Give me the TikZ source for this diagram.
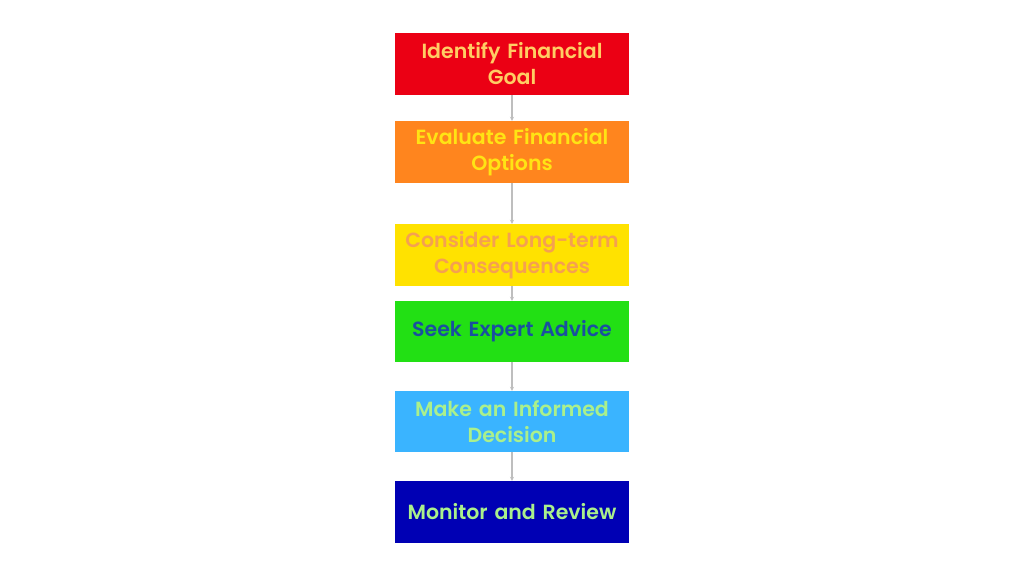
\documentclass[tikz,border=0pt]{standalone}
\usepackage{fontspec}
\setmainfont{Poppins}[BoldFont={Poppins SemiBold}]
\usetikzlibrary{arrows.meta}
\definecolor{cRed}{RGB}{235,0,20}
\definecolor{tRed}{RGB}{255,205,100}
\definecolor{cOrange}{RGB}{255,133,30}
\definecolor{tOrange}{RGB}{255,228,20}
\definecolor{cYellow}{RGB}{255,226,0}
\definecolor{tYellow}{RGB}{245,160,80}
\definecolor{cGreen}{RGB}{34,224,20}
\definecolor{tGreen}{RGB}{25,80,160}
\definecolor{cLBlue}{RGB}{58,180,255}
\definecolor{tLBlue}{RGB}{170,240,140}
\definecolor{cDBlue}{RGB}{0,0,180}
\definecolor{tDBlue}{RGB}{170,240,140}
\definecolor{arrowgray}{RGB}{190,190,190}
\tikzset{
  stepbox/.style={rectangle, minimum width=234pt, minimum height=62pt, inner sep=0pt,
    align=center, font=\fontsize{20.5}{26}\selectfont\bfseries, text width=232pt},
  conn/.style={draw=arrowgray, line width=1.2pt, -{Stealth[length=4pt,width=4pt]}}
}
\begin{document}
\begin{tikzpicture}[x=1pt,y=-1pt]
\useasboundingbox[fill=white] (0,0) rectangle (1024,576);
\node[stepbox, fill=cRed, text=tRed] (s1) at (512,64) {Identify Financial\\Goal};
\node[stepbox, fill=cOrange, text=tOrange] (s2) at (512,152) {Evaluate Financial\\Options};
\node[stepbox, fill=cYellow, text=tYellow] (s3) at (512,255) {Consider Long-term\\Consequences};
\node[stepbox, fill=cGreen, text=tGreen, minimum height=61pt] (s4) at (512,331.5) {Seek Expert Advice};
\node[stepbox, fill=cLBlue, text=tLBlue, minimum height=61pt] (s5) at (512,421.5) {Make an Informed\\Decision};
\node[stepbox, fill=cDBlue, text=tDBlue] (s6) at (512,512) {Monitor and Review};
\draw[conn] (s1) -- (s2);
\draw[conn] (s2) -- (s3);
\draw[conn] (s3) -- (s4);
\draw[conn] (s4) -- (s5);
\draw[conn] (s5) -- (s6);
\end{tikzpicture}
\end{document}
